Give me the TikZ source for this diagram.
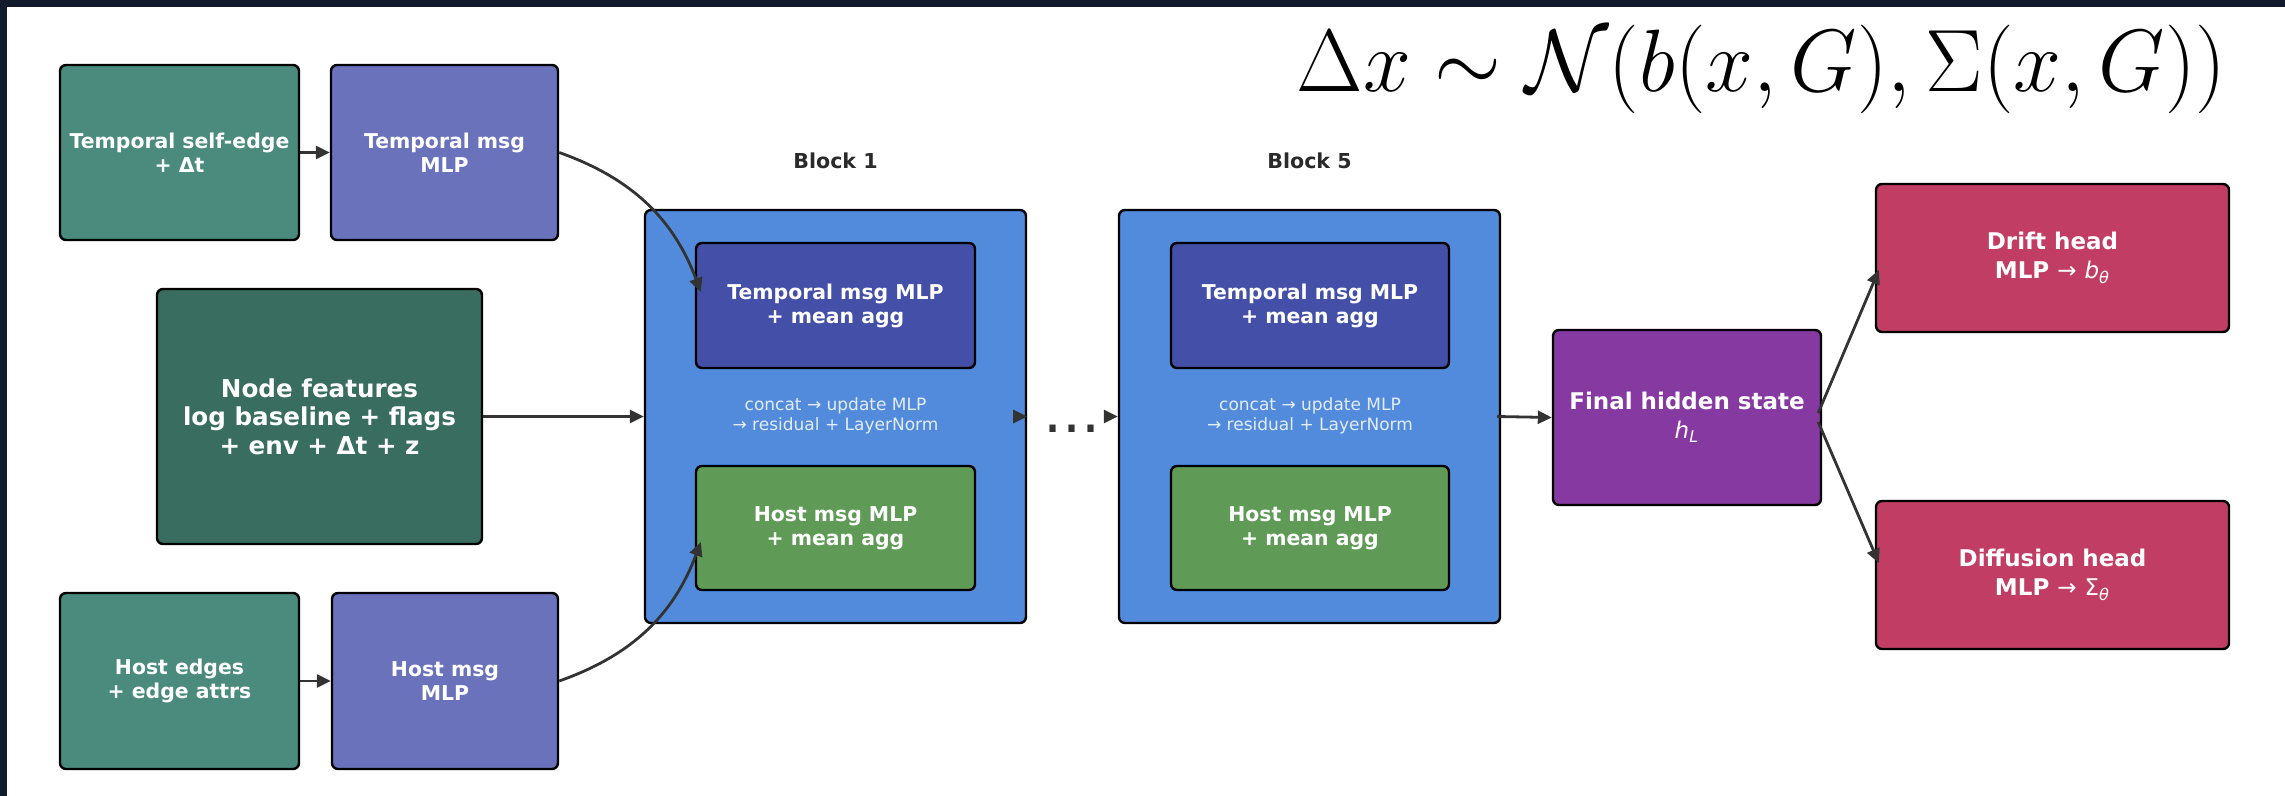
\RequirePackage{fix-cm}
\documentclass[tikz,border=0pt]{standalone}
\usepackage[no-math]{fontspec}
\newfontfamily\dv{DejaVu Sans}
\usetikzlibrary{arrows.meta}
\definecolor{bgdark}{HTML}{121B2B}
\definecolor{teal}{HTML}{4A8B7D}
\definecolor{darkteal}{HTML}{386D60}
\definecolor{lavender}{HTML}{6A72BC}
\definecolor{blockblue}{HTML}{528BDC}
\definecolor{indigo}{HTML}{4450A8}
\definecolor{leaf}{HTML}{5F9B57}
\definecolor{purp}{HTML}{8639A0}
\definecolor{rose}{HTML}{C23D64}
\definecolor{arrowgray}{HTML}{333333}
\definecolor{labelgray}{HTML}{2A2A2A}
\definecolor{softwhite}{HTML}{E3ECF9}
\begin{document}
\begin{tikzpicture}[x=0.5pt,y=-0.5pt,
  box/.style={draw=black, line width=1.2pt, rounded corners=3pt, align=center, text=white, inner sep=0pt},
  fa/.style={font=\dv\bfseries\fontsize{10.2}{12}\selectfont},
  fb/.style={font=\dv\bfseries\fontsize{12.3}{14.2}\selectfont},
  fc/.style={font=\dv\bfseries\fontsize{11.5}{13.5}\selectfont},
  fsmall/.style={font=\dv\fontsize{8.5}{9.7}\selectfont, text=softwhite, align=center},
  blocklabel/.style={font=\dv\bfseries\fontsize{10.3}{12}\selectfont, text=labelgray},
  arr/.style={draw=arrowgray, line width=1.4pt, -{Triangle[length=7pt,width=6.5pt]}},
]
\useasboundingbox (0,0) rectangle (2285,796);
\fill[bgdark] (0,0) rectangle (2285,796);
\fill[white] (7,7) rectangle (2285,796);

% title formula
\node[inner sep=0pt] (formula) at (1761.5,69) {\scalebox{1}[1.03]{\fontsize{43}{50}\selectfont$\Delta x \sim \mathcal{N}(b(x,G),\Sigma(x,G))$}};

% left inputs
\node[box, fa, fill=teal, minimum width=119.5pt, minimum height=87.5pt] (tse) at (179.5,152.5) {Temporal self-edge\\+ Δt};
\node[box, fa, fill=lavender, minimum width=113.5pt, minimum height=87.5pt] (tmsg) at (444.5,152.5) {Temporal msg\\MLP};
\node[box, fb, fill=darkteal, minimum width=162.5pt, minimum height=127.5pt] (nf) at (319.5,416.5) {Node features\\log baseline + flags\\+ env + Δt + z};
\node[box, fa, fill=teal, minimum width=119.5pt, minimum height=88pt] (he) at (179.5,681) {Host edges\\+ edge attrs};
\node[box, fa, fill=lavender, minimum width=113pt, minimum height=88pt] (hmsg) at (445,681) {Host msg\\MLP};

% block 1
\node[blocklabel] (lb1) at (835.5,161) {Block 1};
\node[box, fill=blockblue, minimum width=190.5pt, minimum height=206.5pt] (b1) at (835.5,416.5) {};
\node[box, fa, fill=indigo, minimum width=139.5pt, minimum height=62.5pt] (b1t) at (835.5,305.5) {Temporal msg MLP\\+ mean agg};
\node[box, fa, fill=leaf, minimum width=139.5pt, minimum height=62pt] (b1h) at (835.5,528) {Host msg MLP\\+ mean agg};
\node[fsmall] (b1txt) at (835.5,416) {concat → update MLP\\→ residual + LayerNorm};

% dots
\node[font=\dv\fontsize{30}{30}\selectfont, text=arrowgray, inner sep=0pt, anchor=base] (dots) at (1072,432) {...};

% block 5
\node[blocklabel] (lb5) at (1309.5,161) {Block 5};
\node[box, fill=blockblue, minimum width=190.5pt, minimum height=206.5pt] (b5) at (1309.5,416.5) {};
\node[box, fa, fill=indigo, minimum width=139pt, minimum height=62.5pt] (b5t) at (1310,305.5) {Temporal msg MLP\\+ mean agg};
\node[box, fa, fill=leaf, minimum width=139pt, minimum height=62pt] (b5h) at (1310,528) {Host msg MLP\\+ mean agg};
\node[fsmall] (b5txt) at (1310,416) {concat → update MLP\\→ residual + LayerNorm};

% final + heads
\node[box, fc, fill=purp, minimum width=134pt, minimum height=87.5pt] (fh) at (1687,417.5) {Final hidden state\\[1pt]{\mdseries\itshape h\textsubscript{L}}};
\node[box, fc, fill=rose, minimum width=176.5pt, minimum height=74pt] (dh) at (2052.5,258) {Drift head\\[1pt]MLP\ {\mdseries →}\ {\mdseries\itshape b\textsubscript{θ}}};
\node[box, fc, fill=rose, minimum width=176.5pt, minimum height=74pt] (dfh) at (2052.5,575) {Diffusion head\\[1pt]MLP\ {\mdseries →}\ {\mdseries Σ\textsubscript{\itshape θ}}};

% connectors
\draw[arr] (tse.east) -- (tmsg.west);
\draw[arr] (he.east) -- (hmsg.west);
\draw[arr] (nf.east) -- (b1.west);
\draw[arr] (tmsg.east) to[bend left=25] ([xshift=3pt,yshift=6.75pt]b1t.west);
\draw[arr] (hmsg.east) to[bend right=25] ([xshift=3pt,yshift=-7pt]b1h.west);
\draw[arr] ([xshift=-7pt]b1.east) -- (b1.east);
\draw[arr] ([xshift=-7pt]b5.west) -- (b5.west);
\draw[arr] ([xshift=-2pt]b5.east) -- (fh.west);
\draw[arr] ([xshift=-2pt,yshift=2.25pt]fh.east) -- ([xshift=2pt,yshift=-6pt]dh.west);
\draw[arr] ([xshift=-2pt,yshift=-2.25pt]fh.east) -- ([xshift=2pt,yshift=6pt]dfh.west);
\end{tikzpicture}
\end{document}
